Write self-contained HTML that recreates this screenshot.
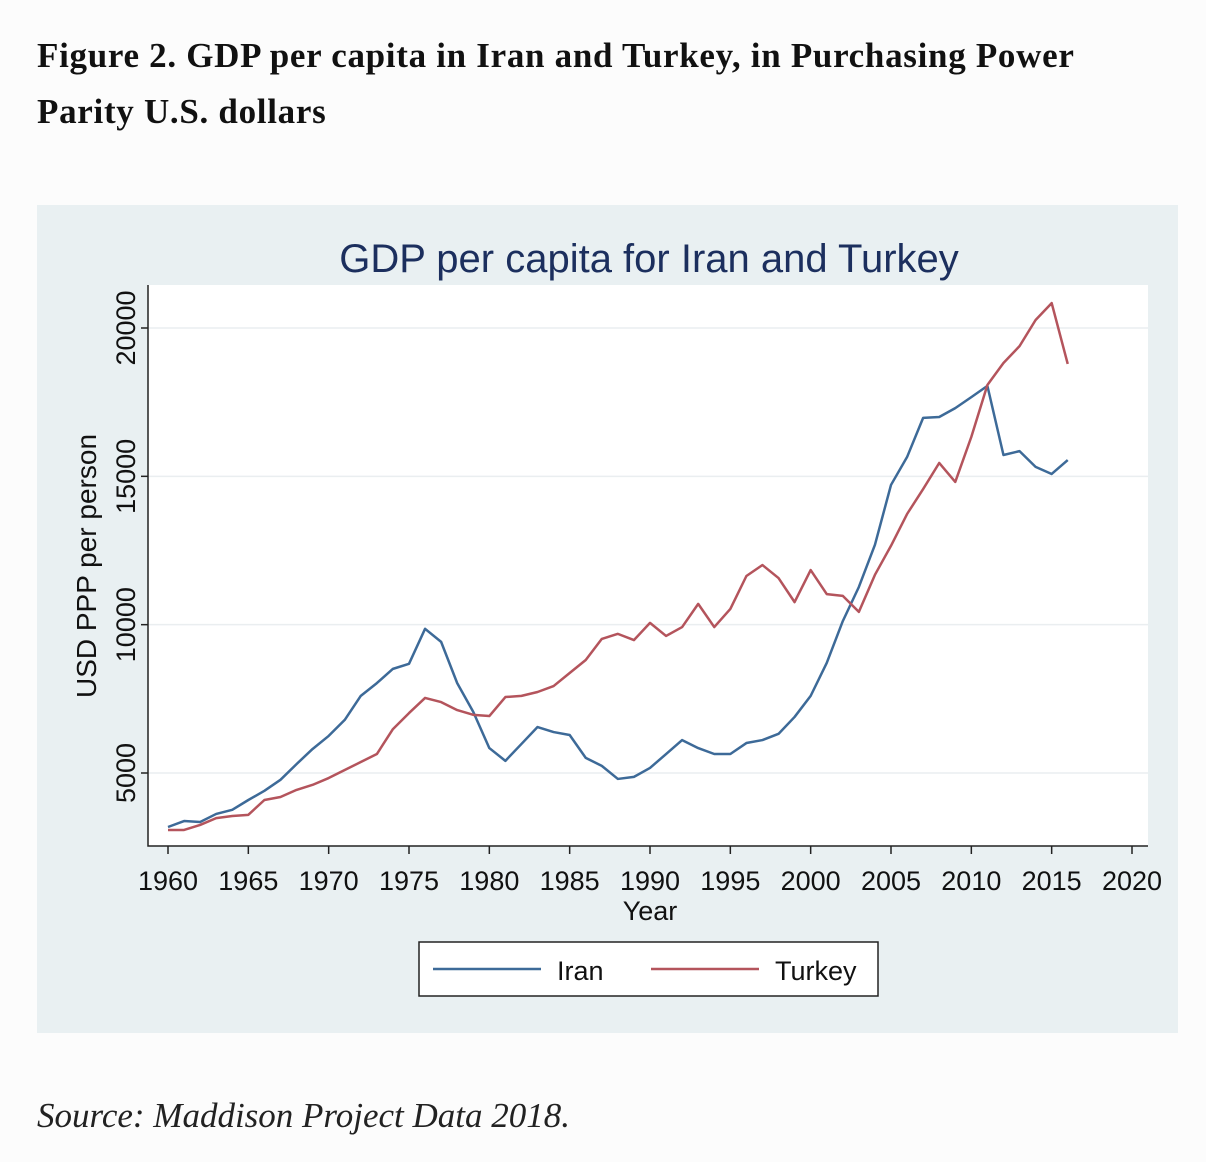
<!DOCTYPE html>
<html><head><meta charset="utf-8"><style>
body{margin:0;background:#fcfcfc;width:1206px;height:1162px;overflow:hidden;font-family:"Liberation Serif",serif;}
#h{position:absolute;left:37px;top:28px;width:1160px;font-weight:bold;font-size:35px;line-height:56px;color:#111;white-space:nowrap;letter-spacing:0.7px;}
#src{position:absolute;left:37px;top:1096px;font-style:italic;font-size:35px;color:#222;}
svg{position:absolute;left:0;top:0;}
</style></head><body>
<div id="h">Figure 2. GDP per capita in Iran and Turkey, in Purchasing Power<br>Parity U.S. dollars</div>
<svg width="1206" height="1162" id="chart" font-family="Liberation Sans, sans-serif">
<rect x="37" y="205" width="1141" height="828" fill="#e9f0f2"/>
<rect x="148" y="285" width="1000" height="561" fill="#fff"/>
<text x="649" y="272" text-anchor="middle" font-size="40" fill="#1c2f5e">GDP per capita for Iran and Turkey</text>
<g id="grid"></g><g id="axes"></g><g id="lines"></g>
<text x="650" y="920" text-anchor="middle" font-size="27" fill="#111">Year</text>
<text transform="translate(96,566) rotate(-90)" text-anchor="middle" font-size="28" fill="#111">USD PPP per person</text>
<g>
<rect x="419" y="942" width="459" height="54" fill="#fff" stroke="#222" stroke-width="1.5"/>
<line x1="433" y1="969" x2="541" y2="969" stroke="#3d6a98" stroke-width="2.5"/>
<text x="557" y="980" font-size="27" fill="#111">Iran</text>
<line x1="651" y1="969" x2="759" y2="969" stroke="#b4545c" stroke-width="2.5"/>
<text x="775" y="980" font-size="27" fill="#111">Turkey</text>
</g>
</svg>
<div id="src">Source: Maddison Project Data 2018.</div>
<script>
const years=[1960,1961,1962,1963,1964,1965,1966,1967,1968,1969,1970,1971,1972,1973,1974,1975,1976,1977,1978,1979,1980,1981,1982,1983,1984,1985,1986,1987,1988,1989,1990,1991,1992,1993,1994,1995,1996,1997,1998,1999,2000,2001,2002,2003,2004,2005,2006,2007,2008,2009,2010,2011,2012,2013,2014,2015,2016];
const iran=[3180,3380,3350,3620,3760,4090,4400,4770,5300,5810,6250,6790,7600,8030,8510,8680,9860,9420,8030,7060,5840,5410,5980,6550,6380,6280,5510,5240,4800,4870,5170,5640,6110,5840,5640,5640,6010,6110,6320,6890,7600,8710,10120,11270,12690,14710,15650,16970,17000,17300,17670,18050,15720,15850,15320,15080,15550];
const turkey=[3080,3080,3250,3480,3550,3590,4090,4190,4430,4600,4830,5100,5370,5640,6480,7020,7530,7390,7120,6960,6920,7560,7600,7730,7930,8370,8810,9520,9690,9480,10060,9620,9920,10700,9920,10530,11640,12010,11570,10760,11840,11030,10970,10430,11680,12660,13730,14570,15450,14810,16330,18080,18820,19390,20270,20840,18790];
const xTicks=[1960,1965,1970,1975,1980,1985,1990,1995,2000,2005,2010,2015,2020];
const yTicks=[5000,10000,15000,20000];
const X=v=>168+(v-1960)*(1132-168)/60;
const Y=v=>773-(v-5000)*(773-328)/15000;
const NS="http://www.w3.org/2000/svg";
function mk(p,t,a){const e=document.createElementNS(NS,t);for(const k in a)e.setAttribute(k,a[k]);document.getElementById(p).appendChild(e);return e;}
yTicks.forEach(v=>{
 const g=mk('grid','line',{x1:148,x2:1148,y1:Y(v),y2:Y(v),stroke:'#eaeef0','stroke-width':1.5});
 
 
 const t=mk('axes','line',{x1:141,x2:148,y1:Y(v),y2:Y(v),stroke:'#222','stroke-width':1.5});
 
 
 const l=mk('axes','text',{transform:`translate(135,${Y(v)}) rotate(-90)`,'text-anchor':'middle','font-size':27,fill:'#111'});
 l.textContent=v;
 
 
});
xTicks.forEach(v=>{
 const t=mk('axes','line',{x1:X(v),x2:X(v),y1:846,y2:854,stroke:'#222','stroke-width':1.5});
 
 
 const l=mk('axes','text',{x:X(v),y:890,'text-anchor':'middle','font-size':27,fill:'#111'});
 l.textContent=v;
 
 
});
const ax=mk('axes','path',{d:'M148,285 V846 H1148',fill:'none',stroke:'#222','stroke-width':1.5});


[[iran,'#3d6a98','iran-line'],[turkey,'#b4545c','turkey-line']].forEach(([d,c,n])=>{
 const p=mk('lines','path',{d:d.map((v,i)=>(i?'L':'M')+X(years[i])+','+Y(v)).join(''),fill:'none',stroke:c,'stroke-width':2.5,'stroke-linejoin':'round'});
 
 
});
</script>
</body></html>
